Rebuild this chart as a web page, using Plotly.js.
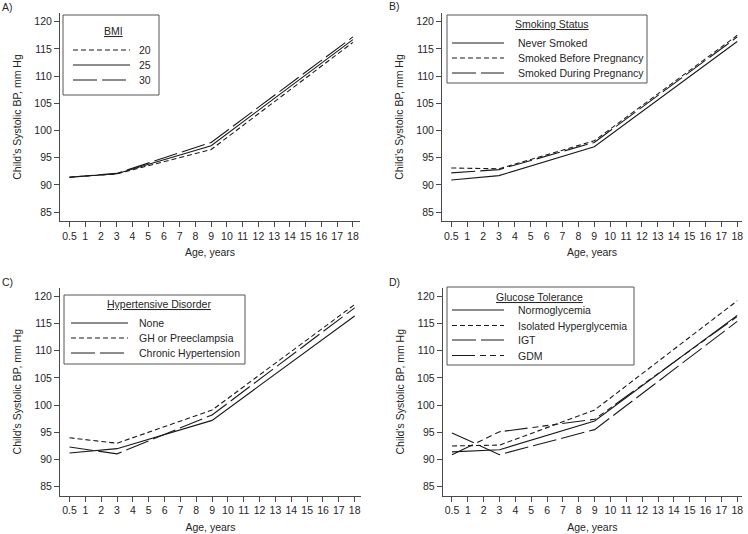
<!DOCTYPE html>
<html>
<head>
<meta charset="utf-8">
<script src="https://cdn.plot.ly/plotly-3.0.1.min.js"></script>
<style>
  html, body { margin: 0; padding: 0; background: #fff; }
  #chart { width: 748px; height: 534px; }
</style>
</head>
<body>
<div id="chart"></div>
<script>
// ---------- DATA ----------
const ages = ["0.5","1","2","3","4","5","6","7","8","9","10","11","12","13","14","15","16","17","18"];
const knots = ["0.5","3","9","18"];

// A) BMI
const bmiNames = ["20", "25", "30"];
const bmi20 = [91.4, 92.0, 96.5, 116.2];
const bmi25 = [91.4, 92.05, 97.2, 116.7];
const bmi30 = [91.4, 92.1, 97.8, 117.2];

// B) Smoking status
const smokeNames = ["Never Smoked", "Smoked Before Pregnancy", "Smoked During Pregnancy"];
const neverSmoked = [90.9, 91.7, 97.0, 116.35];
const smokedBefore = [93.1, 92.95, 98.1, 117.5];
const smokedDuring = [92.2, 92.8, 97.8, 117.2];

// C) Hypertensive disorder
const htnNames = ["None", "GH or Preeclampsia", "Chronic Hypertension"];
const htnNone = [91.2, 92.0, 97.2, 116.4];
const htnGH = [94.0, 93.0, 99.1, 118.5];
const htnChronic = [92.3, 91.05, 98.2, 117.9];

// D) Glucose tolerance
const glucNames = ["Normoglycemia", "Isolated Hyperglycemia", "IGT", "GDM"];
const normo = [91.4, 91.8, 97.1, 116.5];
const isolated = [92.5, 92.65, 99.1, 119.2];
const igt = [94.9, 90.9, 95.5, 115.4];
const gdm = [90.9, 95.1, 97.4, 116.3];

const yTicks = [85, 90, 95, 100, 105, 110, 115, 120];

// ---------- STYLE ----------
const W = 748, H = 534;
const px = v => v / W;
const py = v => 1 - v / H;
const FONT = "Liberation Sans, Arial, sans-serif";
const TXT = "#262626";
const LINE = "#1a1a1a";
const AXC = "#4a4a4a";
const FS = 10.5;

const DASH_SOLID = "solid";
const DASH_SHORT = "5px,3px";
const DASH_LONG = "24px,5px";
const DASH_GDM = "23px,5px,6px,4px,6px,4px,6px,4px";

function tr(y, name, dash, xa, ya) {
  return {
    type: "scatter", mode: "lines", x: knots, y: y, name: name,
    xaxis: xa, yaxis: ya, showlegend: false, hoverinfo: "x+y+name",
    line: { color: LINE, width: 1.1, dash: dash }
  };
}

const traces = [
  tr(bmi20, bmiNames[0], DASH_SHORT, "x", "y"),
  tr(bmi25, bmiNames[1], DASH_SOLID, "x", "y"),
  tr(bmi30, bmiNames[2], DASH_LONG, "x", "y"),
  tr(neverSmoked, smokeNames[0], DASH_SOLID, "x2", "y2"),
  tr(smokedBefore, smokeNames[1], DASH_SHORT, "x2", "y2"),
  tr(smokedDuring, smokeNames[2], DASH_LONG, "x2", "y2"),
  tr(htnNone, htnNames[0], DASH_SOLID, "x3", "y3"),
  tr(htnGH, htnNames[1], DASH_SHORT, "x3", "y3"),
  tr(htnChronic, htnNames[2], DASH_LONG, "x3", "y3"),
  tr(normo, glucNames[0], DASH_SOLID, "x4", "y4"),
  tr(isolated, glucNames[1], DASH_SHORT, "x4", "y4"),
  tr(igt, glucNames[2], DASH_LONG, "x4", "y4"),
  tr(gdm, glucNames[3], DASH_GDM, "x4", "y4")
];

function xax(dom, rng, anchor) {
  return {
    domain: dom, anchor: anchor, type: "category",
    categoryorder: "array", categoryarray: ages,
    tickvals: ages, ticktext: ages, range: rng,
    showline: true, linecolor: AXC, linewidth: 1,
    ticks: "outside", ticklen: 5, tickcolor: AXC, tickwidth: 1,
    showgrid: false, zeroline: false, fixedrange: true,
    tickfont: { family: FONT, size: FS, color: TXT },
    title: { text: "Age, years", font: { family: FONT, size: FS, color: TXT }, standoff: 8 },
    automargin: false
  };
}
function yax(dom, anchor) {
  return {
    domain: dom, anchor: anchor, range: [83.35, 121.6],
    tickvals: yTicks,
    showline: true, linecolor: AXC, linewidth: 1,
    ticks: "outside", ticklen: 5, tickcolor: AXC, tickwidth: 1,
    showgrid: false, zeroline: false, fixedrange: true,
    tickfont: { family: FONT, size: FS, color: TXT },
    title: { text: "Child's Systolic BP, mm Hg", font: { family: FONT, size: FS, color: TXT }, standoff: 10 },
    automargin: false
  };
}

// panel geometry (page pixels)
const topRow = [py(221), py(13)];
const botRow = [py(495.7), py(287.7)];

const layout = {
  width: W, height: H,
  margin: { l: 0, r: 0, t: 0, b: 0, pad: 0 },
  paper_bgcolor: "#fff", plot_bgcolor: "#fff",
  font: { family: FONT, size: FS, color: TXT },
  showlegend: false,
  xaxis: xax([px(60), px(360)], [-0.6, 18.45], "y"),
  yaxis: yax(topRow, "x"),
  xaxis2: xax([px(442), px(742)], [-0.585, 18.3], "y2"),
  yaxis2: yax(topRow, "x2"),
  xaxis3: xax([px(60), px(361)], [-0.6, 18.4], "y3"),
  yaxis3: yax(botRow, "x3"),
  xaxis4: xax([px(442.7), px(742)], [-0.585, 18.3], "y4"),
  yaxis4: yax(botRow, "x4"),
  shapes: [],
  annotations: []
};

// panel letters
[["A)", 0, 7], ["B)", 387, 6], ["C)", 0, 282], ["D)", 387, 282]].forEach(p => {
  layout.annotations.push({
    text: p[0], xref: "paper", yref: "paper", x: px(p[1]), y: py(p[2]),
    xanchor: "left", yanchor: "middle", showarrow: false,
    font: { family: FONT, size: FS, color: TXT }
  });
});

// manual legends (box, underlined title, sample lines, labels)
function legend(box, title, titleX, titleY, names, dashes, rowY, sx0, sx1, lx) {
  layout.shapes.push({
    type: "rect", xref: "paper", yref: "paper",
    x0: px(box[0]), x1: px(box[1]), y0: py(box[2]), y1: py(box[3]),
    line: { color: "#555", width: 1 }, fillcolor: "rgba(0,0,0,0)"
  });
  layout.annotations.push({
    text: "<u>" + title + "</u>", xref: "paper", yref: "paper",
    x: px(titleX), y: py(titleY), xanchor: "center", yanchor: "middle",
    showarrow: false, font: { family: FONT, size: FS, color: TXT }
  });
  names.forEach((n, i) => {
    layout.shapes.push({
      type: "line", xref: "paper", yref: "paper",
      x0: px(sx0), x1: px(sx1), y0: py(rowY[i]), y1: py(rowY[i]),
      line: { color: LINE, width: 1.1, dash: dashes[i] }
    });
    layout.annotations.push({
      text: n, xref: "paper", yref: "paper", x: px(lx), y: py(rowY[i]),
      xanchor: "left", yanchor: "middle", showarrow: false,
      font: { family: FONT, size: FS, color: TXT }
    });
  });
}

legend([63, 159, 15, 95], "BMI", 113, 31, bmiNames,
  [DASH_SHORT, DASH_SOLID, DASH_LONG], [50, 65, 80], 73, 130, 137);
legend([447, 647, 15, 83], "Smoking Status", 552, 24, smokeNames,
  [DASH_SOLID, DASH_SHORT, DASH_LONG], [43, 58, 73], 452, 504, 516);
legend([64, 245, 295, 364], "Hypertensive Disorder", 159, 304, htnNames,
  [DASH_SOLID, DASH_SHORT, DASH_LONG], [323, 338, 353], 71, 128, 137);
legend([447, 634, 287, 365], "Glucose Tolerance", 539, 296.5, glucNames,
  [DASH_SOLID, DASH_SHORT, DASH_LONG, DASH_GDM], [310, 325.5, 340, 355.5], 452, 504, 516);

Plotly.newPlot("chart", traces, layout, { displayModeBar: false, staticPlot: true });
</script>
</body>
</html>
